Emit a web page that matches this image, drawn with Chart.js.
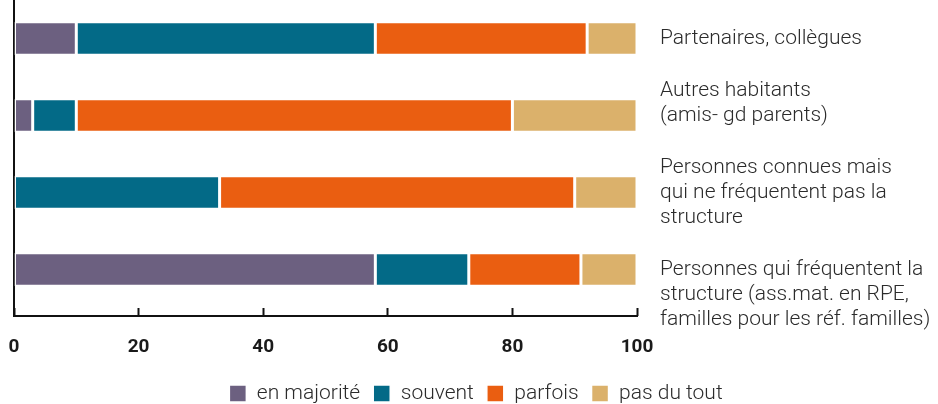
<!DOCTYPE html>
<html>
<head>
<meta charset="utf-8">
<script src="https://cdn.jsdelivr.net/npm/chart.js@4/dist/chart.umd.min.js"></script>
<style>
	html, body { margin: 0; padding: 0; background: #fff; }
	#wrap { width: 938px; height: 404px; }
</style>
</head>
<body>
<div id="wrap"><canvas id="chart" width="938" height="404"></canvas></div>
<script>
var categories = [
	'Partenaires, collègues',
	[ 'Autres habitants', '(amis- gd parents)' ],
	[ 'Personnes connues mais', 'qui ne fréquentent pas la', 'structure' ],
	[ 'Personnes qui fréquentent la', 'structure (ass.mat. en RPE,', 'familles pour les réf. familles)' ]
];
var seriesNames = [ 'en majorité', 'souvent', 'parfois', 'pas du tout' ];
var enMajorite = [ 10, 3, 0, 58 ];
var souvent = [ 48, 7, 33, 15 ];
var parfois = [ 34, 70, 57, 18 ];
var pasDuTout = [ 8, 20, 10, 9 ];
var xTicks = [ 0, 20, 40, 60, 80, 100 ];

(function () {
	'use strict';

	var colors = [ '#6c6080', '#036a87', '#ea5e11', '#dbb16b' ];
	var values = [ enMajorite, souvent, parfois, pasDuTout ];
	var font = 'Roboto, "Noto Sans", sans-serif';

	// L-shaped axis drawn under the bars, ticks point up into it
	var axisLines = {
		id: 'axisLines',
		beforeDatasetsDraw: function ( chart ) {
			var ctx = chart.ctx;
			var area = chart.chartArea;
			var x = chart.scales.x;
			var left = x.getPixelForValue( 0 );
			var right = x.getPixelForValue( 100 ) + 1;
			var base = area.bottom + 8;
			ctx.save();
			ctx.strokeStyle = '#111';
			ctx.lineWidth = 2;
			ctx.beginPath();
			ctx.moveTo( left, area.top );
			ctx.lineTo( left, base );
			ctx.lineTo( right, base );
			ctx.stroke();
			ctx.restore();
		}
	};

	var datasets = seriesNames.map( function ( name, i ) {
		return {
			label: name,
			data: values[ i ],
			backgroundColor: colors[ i ],
			borderColor: '#ffffff',
			borderWidth: 1.5,
			borderSkipped: false,
			barPercentage: 0.434,
			categoryPercentage: 1
		};
	} );

	new Chart( document.getElementById( 'chart' ), {
		type: 'bar',
		data: { labels: categories, datasets: datasets },
		plugins: [ axisLines ],
		options: {
			indexAxis: 'y',
			responsive: false,
			devicePixelRatio: 1,
			animation: false,
			layout: { padding: { left: 14, right: 0, top: 0, bottom: -10 } },
			plugins: {
				tooltip: { enabled: false },
				legend: {
					position: 'bottom',
					labels: {
						boxWidth: 17,
						boxHeight: 17,
						padding: 13,
						color: '#2b2b2b',
						font: { family: font, size: 21, weight: '300' }
					}
				}
			},
			scales: {
				x: {
					stacked: true,
					min: 0,
					max: 100,
					afterBuildTicks: function ( scale ) {
						scale.ticks = xTicks.map( function ( v ) { return { value: v }; } );
					},
					afterFit: function ( scale ) {
						scale.height = 62;
						scale.paddingLeft = 0;
						scale.paddingRight = 0;
					},
					border: { display: false },
					grid: {
						drawOnChartArea: false,
						drawTicks: true,
						tickLength: 8,
						tickWidth: 2,
						tickColor: '#111'
					},
					ticks: {
						padding: 20,
						color: '#1a1a1a',
						font: { family: font, size: 19, weight: 'bold' }
					}
				},
				y: {
					stacked: true,
					position: 'right',
					afterFit: function ( scale ) {
						scale.width = 301;
						scale.paddingTop = 0;
						scale.paddingBottom = 0;
					},
					border: { display: false },
					grid: { display: false, drawTicks: false },
					ticks: {
						autoSkip: false,
						padding: 23,
						color: '#2b2b2b',
						font: { family: font, size: 21, weight: '300', lineHeight: 1.19 },
						// the source sets its labels a little off-centre:
						// blank lines nudge them up or down
						callback: function ( value, index ) {
							var lines = [].concat( this.getLabelForValue( value ) );
							if ( index === 1 ) { lines.push( '' ); }
							if ( index === 3 ) { lines.unshift( '', '' ); }
							return lines;
						}
					}
				}
			}
		}
	} );
}() );
</script>
</body>
</html>
